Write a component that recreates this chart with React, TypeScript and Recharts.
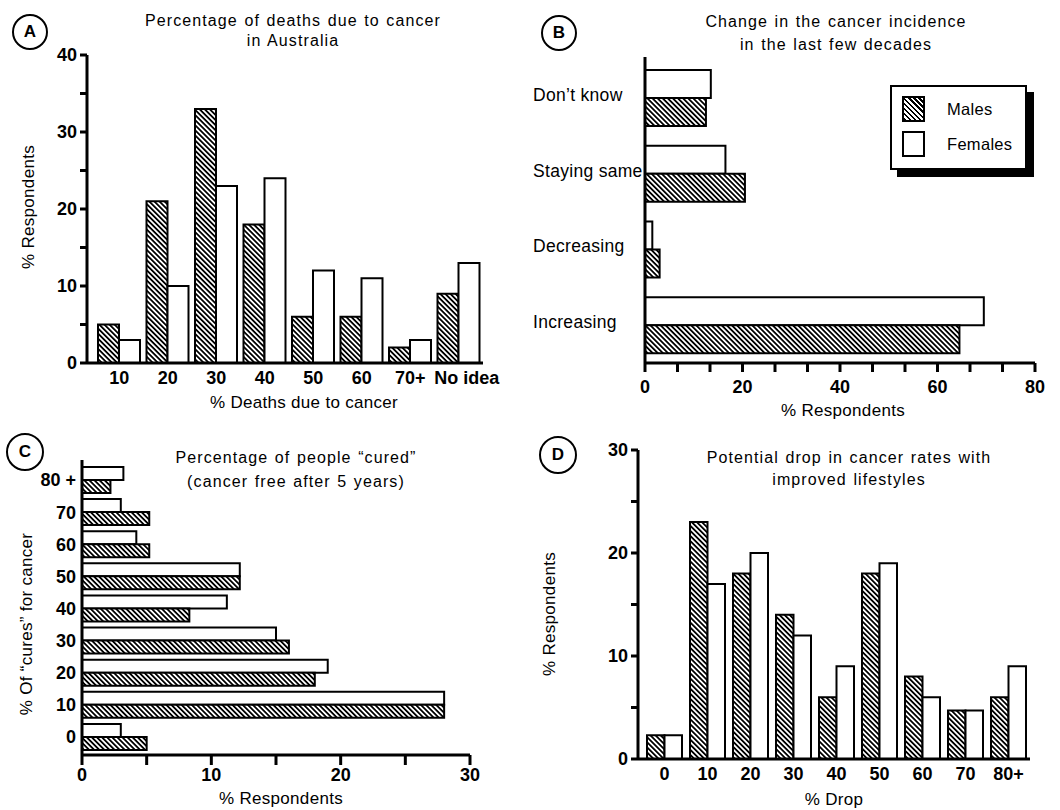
import { BarChart, Bar, XAxis, YAxis } from "recharts";

const FONT = '"Liberation Sans", Arial, Helvetica, sans-serif';

// A: percentage of deaths due to cancer in Australia
const A_CATEGORIES = ["10", "20", "30", "40", "50", "60", "70+", "No idea"];
const A_MALES = [5, 21, 33, 18, 6, 6, 2, 9];
const A_FEMALES = [3, 10, 23, 24, 12, 11, 3, 13];
const A_TICKS = [0, 5, 10, 15, 20, 25, 30, 35, 40];

// B: change in the cancer incidence in the last few decades
const B_CATEGORIES = ["Don\u2019t know", "Staying same", "Decreasing", "Increasing"];
const B_MALES = [12.5, 20.5, 3, 64.5];
const B_FEMALES = [13.5, 16.5, 1.5, 69.5];
const B_TICKS = [0, 20 / 3, 40 / 3, 20, 80 / 3, 100 / 3, 40, 140 / 3, 160 / 3, 60, 200 / 3, 220 / 3, 80];

// C: percentage of people "cured"
const C_CATEGORIES = ["80 +", "70", "60", "50", "40", "30", "20", "10", "0"];
const C_MALES = [2.2, 5.2, 5.2, 12.2, 8.3, 16, 18, 28, 5];
const C_FEMALES = [3.2, 3, 4.2, 12.2, 11.2, 15, 19, 28, 3];
const C_TICKS = [0, 5, 10, 15, 20, 25, 30];

// D: potential drop in cancer rates with improved lifestyles
const D_CATEGORIES = ["0", "10", "20", "30", "40", "50", "60", "70", "80+"];
const D_MALES = [2.3, 23, 18, 14, 6, 18, 8, 4.7, 6];
const D_FEMALES = [2.3, 17, 20, 12, 9, 19, 6, 4.7, 9];
const D_TICKS = [0, 5, 10, 15, 20, 25, 30];

const SERIES = { male: "Males", female: "Females" };

const rows = (cats: string[], males: number[], females: number[]) =>
    cats.map((cat, i) => ({ cat, male: males[i], female: females[i] }));

const axisLine = { stroke: "#000", strokeWidth: 3 };
const tickLine = { stroke: "#000", strokeWidth: 3 };
const boldTick = { fill: "#000", fontSize: 18, fontWeight: 700, fontFamily: FONT };
const every = (step: number) => (v: number) => (Math.abs(v % step) < 0.01 ? String(Math.round(v)) : "");

const hatch = (id: string) => (
    <defs>
        <pattern id={id} width={3.6} height={3.6} patternUnits="userSpaceOnUse" patternTransform="rotate(45)">
            <rect width={3.6} height={3.6} fill="#fff" />
            <rect width={3.6} height={1.8} fill="#000" />
        </pattern>
    </defs>
);

// x labels of panel A; the last one ("No idea") sits a little to the right in the original
const ATick = ({ x, y, payload }: any) => (
    <text x={x + (payload.index === A_CATEGORIES.length - 1 ? 8 : 0)} y={y} dy="0.71em" textAnchor="middle"
        fontSize={18} fontWeight={700} fontFamily={FONT} fill="#000">
        {payload.value}
    </text>
);

// left aligned category labels of panel B
const LeftTick = ({ y, payload }: any) => (
    <text x={3} y={y} dy={3} textAnchor="start" fontSize={17.5} fontFamily={FONT} letterSpacing={0.3} fill="#000">
        {payload.value}
    </text>
);

const Circle = ({ letter, cx, cy, r }: { letter: string; cx: number; cy: number; r: number }) => (
    <div style={{
        position: "absolute", left: cx - r, top: cy - r, width: r * 2, height: r * 2,
        boxSizing: "border-box", border: "2.5px solid #000", borderRadius: "50%",
        display: "flex", alignItems: "center", justifyContent: "center",
        fontWeight: 700, fontSize: 17,
    }}>{letter}</div>
);

const Title = ({ lines, cx, top, lh }: { lines: string[]; cx: number; top: number; lh: number }) => (
    <div style={{
        position: "absolute", left: cx - 220, top, width: 440, textAlign: "center",
        fontSize: 16, lineHeight: `${lh}px`, letterSpacing: 1.1, wordSpacing: 1,
    }}>
        {lines.map((l) => <div key={l}>{l}</div>)}
    </div>
);

const Label = ({ text, cx, cy, rotate }: { text: string; cx: number; cy: number; rotate?: boolean }) => (
    <div style={{
        position: "absolute", left: cx, top: cy, whiteSpace: "nowrap", fontSize: 17, lineHeight: "20px",
        letterSpacing: 0.3,
        transform: `translate(-50%, -50%)${rotate ? " rotate(-90deg)" : ""}`,
    }}>{text}</div>
);

const swatch = (hatched: boolean) => ({
    width: 23, height: 26, boxSizing: "border-box" as const, border: "2.5px solid #000",
    background: hatched ? "repeating-linear-gradient(45deg, #000 0 1.8px, #fff 1.8px 3.6px)" : "#fff",
});

export default function App() {
    return (
        <div style={{
            position: "absolute", left: 0, top: 0, width: 1060, height: 810, overflow: "hidden",
            background: "#fff", fontFamily: FONT, color: "#000",
        }}>
            {/* Panel A */}
            <div style={{ position: "absolute", left: 0, top: 0 }}>
                <BarChart width={530} height={410} data={rows(A_CATEGORIES, A_MALES, A_FEMALES)}
                    margin={{ top: 55, right: 47, bottom: 17, left: 47 }} barGap={0}>
                    {hatch("hatchA")}
                    <XAxis dataKey="cat" height={30} interval={0} padding={{ left: 8, right: 0 }}
                        axisLine={axisLine} tickLine={false} tick={<ATick />} />
                    <YAxis width={40} domain={[0, 40]} ticks={A_TICKS} interval={0} tickSize={7} tickMargin={3}
                        axisLine={axisLine} tickLine={tickLine} tick={boldTick} tickFormatter={every(10)} />
                    <Bar dataKey="male" name={SERIES.male} barSize={21} fill="url(#hatchA)" stroke="#000" strokeWidth={2} isAnimationActive={false} />
                    <Bar dataKey="female" name={SERIES.female} barSize={21} fill="#fff" stroke="#000" strokeWidth={2} isAnimationActive={false} />
                </BarChart>
            </div>
            <Circle letter="A" cx={30} cy={32} r={18} />
            <Title lines={["Percentage of deaths due to cancer", "in Australia"]} cx={293} top={11} lh={19.5} />
            <Label text="% Respondents" cx={29} cy={207} rotate />
            <Label text="% Deaths due to cancer" cx={304} cy={403} />

            {/* Panel B */}
            <div style={{ position: "absolute", left: 530, top: 0 }}>
                <BarChart width={530} height={410} layout="vertical" data={rows(B_CATEGORIES, B_MALES, B_FEMALES)}
                    margin={{ top: 57, right: 25, bottom: 7, left: 3 }} barGap={0}>
                    {hatch("hatchB")}
                    <XAxis type="number" domain={[0, 80]} ticks={B_TICKS} interval={0} height={40} tickSize={9} tickMargin={8}
                        axisLine={axisLine} tickLine={tickLine} tick={boldTick} tickFormatter={every(20)} />
                    <YAxis type="category" dataKey="cat" width={112} interval={0} padding={{ top: 3, bottom: 0 }}
                        axisLine={axisLine} tickLine={false} tick={<LeftTick />} />
                    <Bar dataKey="female" name={SERIES.female} barSize={28} fill="#fff" stroke="#000" strokeWidth={2} isAnimationActive={false} />
                    <Bar dataKey="male" name={SERIES.male} barSize={28} fill="url(#hatchB)" stroke="#000" strokeWidth={2} isAnimationActive={false} />
                </BarChart>
            </div>
            <Circle letter="B" cx={559} cy={33} r={18} />
            <Title lines={["Change in the cancer incidence", "in the last few decades"]} cx={836} top={10} lh={23.3} />
            <Label text="% Respondents" cx={843} cy={411} />
            <div style={{
                position: "absolute", left: 890, top: 85, width: 137, height: 85, boxSizing: "border-box",
                border: "2.5px solid #000", background: "#fff", boxShadow: "7px 7px 0 #000",
            }}>
                {[{ k: "male", hatched: true }, { k: "female", hatched: false }].map((s, i) => (
                    <div key={s.k} style={{ position: "absolute", left: 10, top: 9 + i * 35, display: "flex", alignItems: "center" }}>
                        <div style={swatch(s.hatched)} />
                        <span style={{ marginLeft: 22, fontSize: 16.5, letterSpacing: 0.3 }}>{SERIES[s.k as "male" | "female"]}</span>
                    </div>
                ))}
            </div>

            {/* Panel C */}
            <div style={{ position: "absolute", left: 0, top: 410 }}>
                <BarChart width={530} height={400} layout="vertical" data={rows(C_CATEGORIES, C_MALES, C_FEMALES)}
                    margin={{ top: 50, right: 60, bottom: 20, left: 32 }} barGap={0}>
                    {hatch("hatchC")}
                    <XAxis type="number" domain={[0, 30]} ticks={C_TICKS} interval={0} height={35} tickSize={10} tickMargin={3}
                        axisLine={axisLine} tickLine={tickLine} tick={boldTick} tickFormatter={every(10)} />
                    <YAxis type="category" dataKey="cat" width={50} interval={0} padding={{ top: 4, bottom: 2 }} tickSize={4} tickMargin={2}
                        axisLine={axisLine} tickLine={false} tick={boldTick} />
                    <Bar dataKey="female" name={SERIES.female} barSize={13} fill="#fff" stroke="#000" strokeWidth={2} isAnimationActive={false} />
                    <Bar dataKey="male" name={SERIES.male} barSize={13} fill="url(#hatchC)" stroke="#000" strokeWidth={2} isAnimationActive={false} />
                </BarChart>
            </div>
            <Circle letter="C" cx={25} cy={452} r={19} />
            <Title lines={["Percentage of people \u201Ccured\u201D", "(cancer free after 5 years)"]} cx={296} top={446} lh={24} />
            <Label text={"% Of \u201Ccures\u201D for cancer"} cx={27} cy={624} rotate />
            <Label text="% Respondents" cx={281} cy={799} />

            {/* Panel D */}
            <div style={{ position: "absolute", left: 530, top: 410 }}>
                <BarChart width={530} height={400} data={rows(D_CATEGORIES, D_MALES, D_FEMALES)}
                    margin={{ top: 40, right: 30, bottom: 21, left: 68 }} barGap={0}>
                    {hatch("hatchD")}
                    <XAxis dataKey="cat" height={30} interval={0} padding={{ left: 5, right: 0 }}
                        axisLine={axisLine} tickLine={false} tick={boldTick} />
                    <YAxis width={40} domain={[0, 30]} ticks={D_TICKS} interval={0} tickSize={7} tickMargin={3}
                        axisLine={axisLine} tickLine={tickLine} tick={boldTick} tickFormatter={every(10)} />
                    <Bar dataKey="male" name={SERIES.male} barSize={17.5} fill="url(#hatchD)" stroke="#000" strokeWidth={2} isAnimationActive={false} />
                    <Bar dataKey="female" name={SERIES.female} barSize={17.5} fill="#fff" stroke="#000" strokeWidth={2} isAnimationActive={false} />
                </BarChart>
            </div>
            <Circle letter="D" cx={558} cy={455} r={19} />
            <Title lines={["Potential drop in cancer rates with", "improved lifestyles"]} cx={849} top={447} lh={22} />
            <Label text="% Respondents" cx={550} cy={614} rotate />
            <Label text="% Drop" cx={834} cy={800} />
        </div>
    );
}
